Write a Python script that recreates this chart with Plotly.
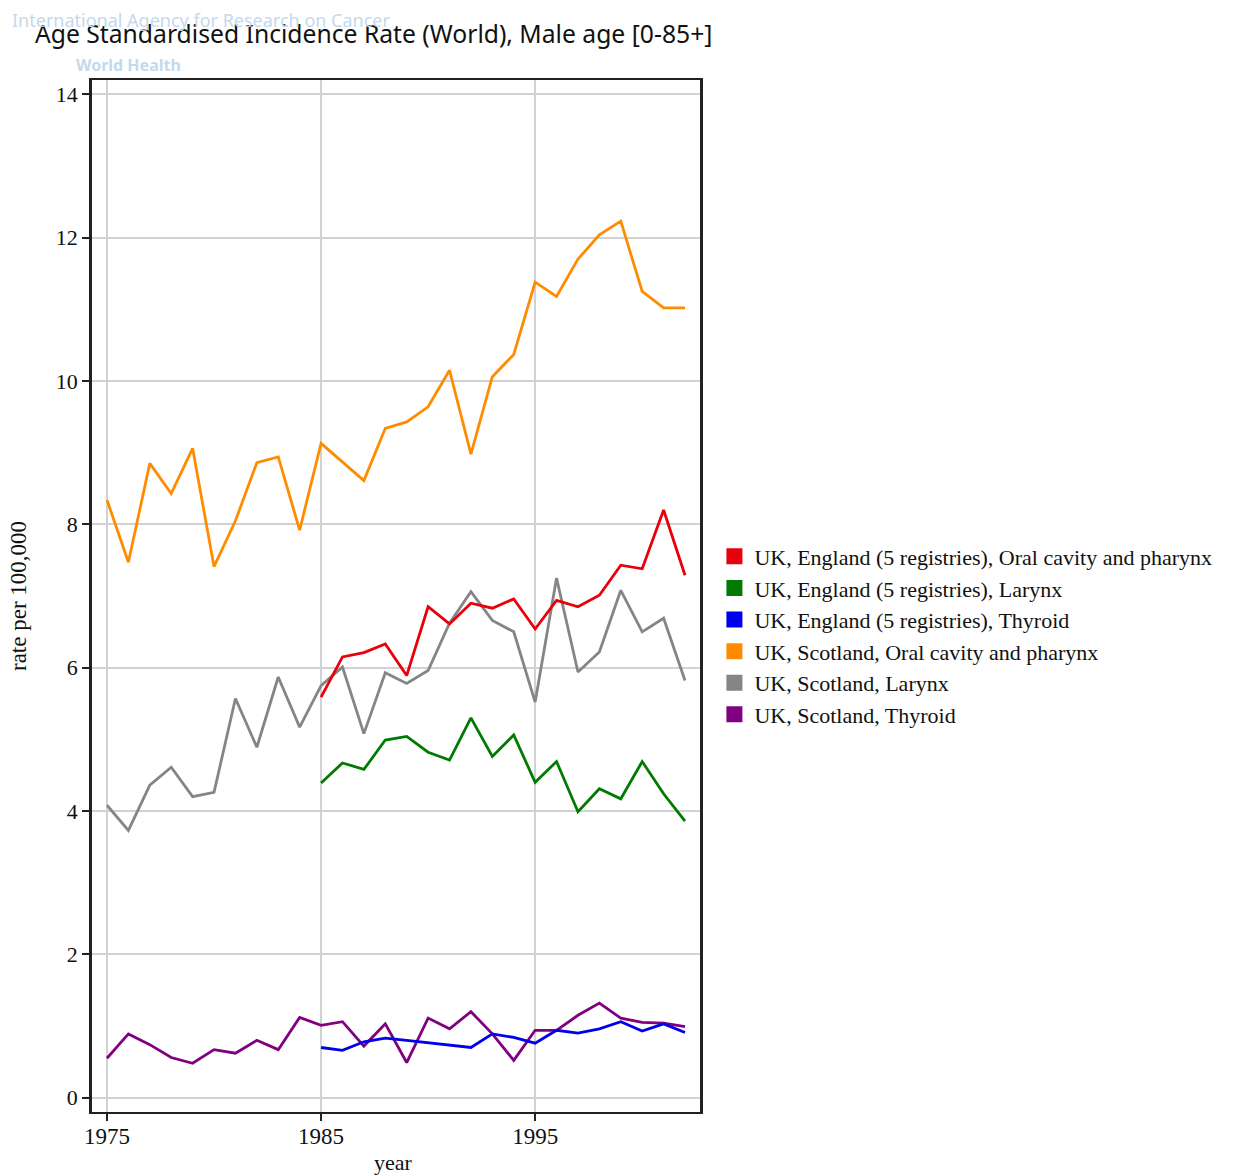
import plotly.graph_objects as go

# Calendar years
years_scotland = list(range(1975, 2003))
years_england = list(range(1985, 2003))

# Age standardised incidence rates (World), males, per 100,000
eng_oral = [5.59, 6.15, 6.21, 6.33, 5.89, 6.85, 6.61, 6.90, 6.83, 6.96,
            6.54, 6.94, 6.85, 7.01, 7.43, 7.38, 8.20, 7.29]
eng_larynx = [4.39, 4.67, 4.58, 4.99, 5.04, 4.82, 4.71, 5.30, 4.76, 5.06,
              4.40, 4.69, 3.99, 4.31, 4.17, 4.69, 4.24, 3.86]
eng_thyroid = [0.70, 0.66, 0.78, 0.83, 0.80, 0.77, 0.73, 0.70, 0.89, 0.84,
               0.76, 0.94, 0.90, 0.96, 1.06, 0.93, 1.03, 0.91]
sco_oral = [8.34, 7.47, 8.85, 8.43, 9.06, 7.41, 8.05, 8.86, 8.94, 7.92,
            9.13, 8.87, 8.61, 9.34, 9.43, 9.64, 10.15, 8.98, 10.06, 10.37,
            11.38, 11.18, 11.70, 12.04, 12.23, 11.25, 11.02, 11.02]
sco_larynx = [4.08, 3.73, 4.36, 4.61, 4.20, 4.26, 5.57, 4.89, 5.87, 5.17,
              5.75, 6.01, 5.08, 5.93, 5.78, 5.96, 6.62, 7.06, 6.66, 6.50,
              5.52, 7.25, 5.94, 6.22, 7.08, 6.50, 6.69, 5.82]
sco_thyroid = [0.55, 0.89, 0.74, 0.56, 0.48, 0.67, 0.62, 0.80, 0.67, 1.12,
               1.01, 1.06, 0.72, 1.03, 0.49, 1.11, 0.96, 1.20, 0.89, 0.52,
               0.94, 0.94, 1.15, 1.32, 1.11, 1.05, 1.04, 0.99]

series = [
    ("UK, England (5 registries), Oral cavity and pharynx", years_england, eng_oral, "#e8000b"),
    ("UK, England (5 registries), Larynx", years_england, eng_larynx, "#007a00"),
    ("UK, England (5 registries), Thyroid", years_england, eng_thyroid, "#0000ee"),
    ("UK, Scotland, Oral cavity and pharynx", years_scotland, sco_oral, "#ff8c00"),
    ("UK, Scotland, Larynx", years_scotland, sco_larynx, "#858585"),
    ("UK, Scotland, Thyroid", years_scotland, sco_thyroid, "#800080"),
]

# Draw order: Scotland first, England on top
draw_order = [3, 4, 5, 0, 1, 2]

SERIF = "Liberation Serif, Times New Roman, serif"
SANS = "Noto Sans, DejaVu Sans, sans-serif"
INK = "#111111"

fig = go.Figure()
for i in draw_order:
    name, xs, ys, color = series[i]
    fig.add_trace(go.Scatter(
        x=xs, y=ys, mode="lines", name=name,
        line=dict(color=color, width=2.8),
        showlegend=False,
    ))

# Legend entries shown as coloured squares
for name, xs, ys, color in series:
    fig.add_trace(go.Scatter(
        x=[None], y=[None], mode="markers", name=name,
        marker=dict(symbol="square", size=18, color=color),
        showlegend=True,
    ))

fig.update_layout(
    width=1240, height=1176,
    margin=dict(l=92, r=540, t=80, b=64, autoexpand=False),
    paper_bgcolor="white",
    plot_bgcolor="white",
    title=dict(
        text="Age Standardised Incidence Rate (World), Male age [0-85+]",
        font=dict(family=SANS, size=24.7, color=INK),
        xref="container", x=35 / 1240, xanchor="left",
        yref="container", y=1 - 34 / 1176, yanchor="middle",
    ),
    legend=dict(
        x=1.0237, xanchor="left", y=0.4617, yanchor="middle",
        font=dict(family=SERIF, size=22, color=INK),
        bgcolor="rgba(0,0,0,0)",
        itemwidth=30,
        tracegroupgap=0,
    ),
    showlegend=True,
)

fig.update_xaxes(
    range=[1974.3, 2002.7],
    tickvals=[1975, 1985, 1995],
    ticktext=["1975", "1985", "1995"],
    ticks="outside", ticklen=7, tickwidth=2, tickcolor="#222222",
    ticklabelstandoff=-5,
    showgrid=True, gridcolor="#d2d2d2", gridwidth=2,
    showline=True, linecolor="#222222", linewidth=2, mirror=True,
    zeroline=False, automargin=False,
    tickfont=dict(family=SERIF, size=23, color=INK),
)
fig.update_yaxes(
    range=[-0.2, 14.2],
    tickvals=[0, 2, 4, 6, 8, 10, 12, 14],
    ticks="outside", ticklen=7, tickwidth=2, tickcolor="#222222",
    showgrid=True, gridcolor="#d2d2d2", gridwidth=2,
    showline=True, linecolor="#222222", linewidth=2.5, mirror=True,
    zeroline=False, automargin=False,
    tickfont=dict(family=SERIF, size=22, color=INK),
)

# Axis titles
fig.add_annotation(
    text="year", xref="paper", yref="paper",
    x=(393 - 92) / 608, y=-(1162 - 1112) / 1032,
    xanchor="center", yanchor="middle", showarrow=False,
    font=dict(family=SERIF, size=22, color=INK),
)
fig.add_annotation(
    text="rate per 100,000", xref="paper", yref="paper",
    x=(18 - 92) / 608, y=(1112 - 596) / 1032, textangle=-90,
    xanchor="center", yanchor="middle", showarrow=False,
    font=dict(family=SERIF, size=23, color=INK),
)

# Faint agency watermark behind the title
fig.add_annotation(
    text="International Agency for Research on Cancer",
    xref="paper", yref="paper", x=(10 - 92) / 608, y=1 + (80 - 20) / 1032,
    xanchor="left", yanchor="middle", showarrow=False,
    font=dict(family=SANS, size=18, color="#c4d9ec"),
)
fig.add_annotation(
    text="<b>World Health</b>",
    xref="paper", yref="paper", x=(74 - 92) / 608, y=1 + (80 - 65) / 1032,
    xanchor="left", yanchor="middle", showarrow=False,
    font=dict(family=SANS, size=16, color="#c4d9ec"),
)

fig.write_html("out.html")
